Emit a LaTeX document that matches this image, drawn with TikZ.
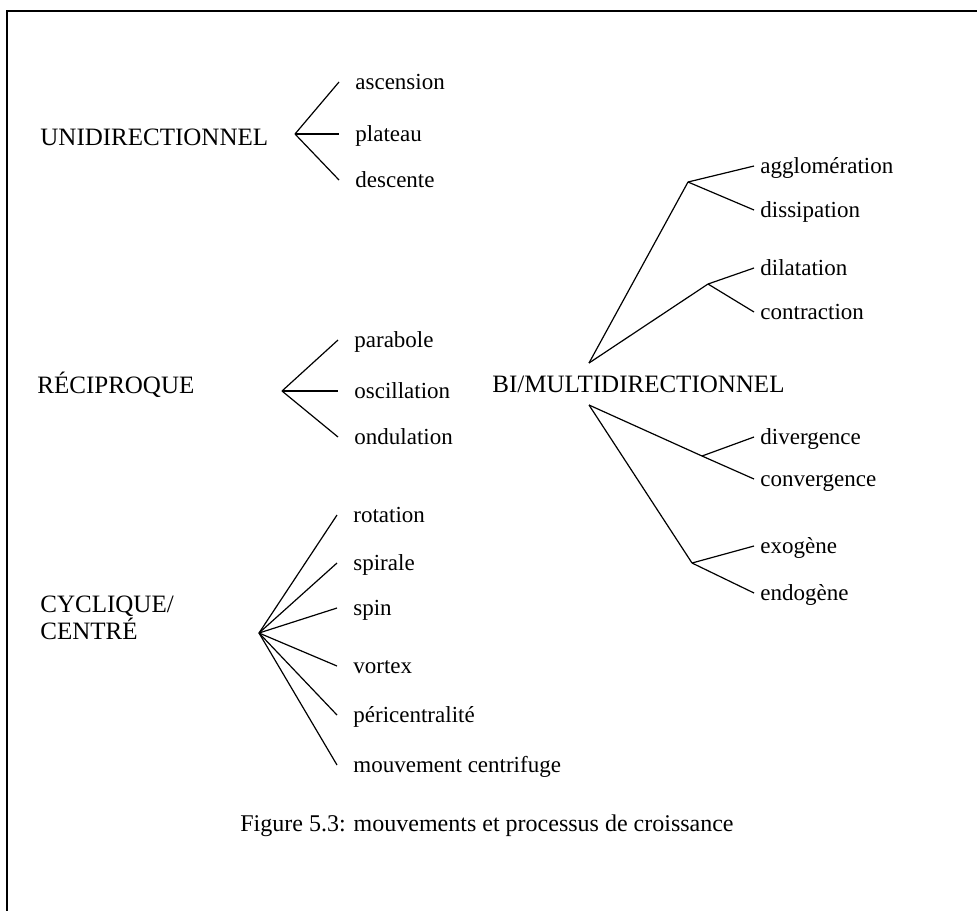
\documentclass[tikz,border=0pt]{standalone}
\usepackage{fontspec}
\setmainfont{Liberation Serif}
\usepackage{tikz}

\begin{document}
\begin{tikzpicture}[x=0.5pt, y=-0.5pt,
    group/.style={anchor=west, inner sep=0pt, align=left, font=\fontsize{12.5}{11}\selectfont},
    branch/.style={anchor=west, inner xsep=8pt, inner ysep=0pt, text height=8pt, text depth=1pt, font=\fontsize{11.5}{13}\selectfont},
    bibranch/.style={branch, inner xsep=3pt},
    link/.style={line width=0.6pt}]
    \useasboundingbox (0,0) rectangle (977,911);

    % Frame
    \draw[line width=1pt] (977,11) -- (7,11) -- (7,911);

    % Unidirectionnel
    \node[group] (uni) at (40,137) {UNIDIRECTIONNEL};
    \coordinate (unifork) at (295,134);
    \node[branch] (asc) at (339,82) {ascension};
    \node[branch] (plat) at (339,134) {plateau};
    \node[branch] (desc) at (339,180) {descente};
    \draw[link] (unifork) -- (asc.west);
    \draw[link] (unifork) -- (plat.west);
    \draw[link] (unifork) -- (desc.west);

    % Reciproque
    \node[group] (reci) at (37,385) {RÉCIPROQUE};
    \coordinate (recifork) at (282,391);
    \node[branch] (para) at (338,340) {parabole};
    \node[branch] (osc) at (338,391) {oscillation};
    \node[branch] (ond) at (338,437) {ondulation};
    \draw[link] (recifork) -- (para.west);
    \draw[link] (recifork) -- (osc.west);
    \draw[link] (recifork) -- (ond.west);

    % Cyclique / centre
    \node[group] (cycl) at (40,618) {CYCLIQUE/\\CENTRÉ};
    \coordinate (cyclfork) at (259,633);
    \node[branch] (rot) at (337,515) {rotation};
    \node[branch] (spir) at (337,563) {spirale};
    \node[branch] (spin) at (337,608) {spin};
    \node[branch] (vort) at (337,666) {vortex};
    \node[branch] (peri) at (337,715) {péricentralité};
    \node[branch] (centri) at (337,765) {mouvement centrifuge};
    \foreach \leaf in {rot, spir, spin, vort, peri, centri}
        \draw[link] (cyclfork) -- (\leaf.west);

    % Bi / multidirectionnel
    \node[group] (bi) at (492,384) {BI/MULTIDIRECTIONNEL};
    \coordinate (bitop) at (589,363);
    \coordinate (bibot) at (589,405);
    \coordinate (aggfork) at (688,182);
    \coordinate (dilfork) at (708,284);
    \coordinate (divfork) at (702,456);
    \coordinate (exofork) at (692,563);
    \node[bibranch] (aggl) at (754,166) {agglomération};
    \node[bibranch] (diss) at (754,210) {dissipation};
    \node[bibranch] (dil) at (754,268) {dilatation};
    \node[bibranch] (contr) at (754,312) {contraction};
    \node[bibranch] (div) at (754,437) {divergence};
    \node[bibranch] (conv) at (754,479) {convergence};
    \node[bibranch] (exo) at (754,546) {exogène};
    \node[bibranch] (endo) at (754,593) {endogène};
    \draw[link] (bitop) -- (aggfork);
    \draw[link] (bitop) -- (dilfork);
    \draw[link] (aggfork) -- (aggl.west);
    \draw[link] (aggfork) -- (diss.west);
    \draw[link] (dilfork) -- (dil.west);
    \draw[link] (dilfork) -- (contr.west);
    \draw[link] (bibot) -- (divfork) -- (conv.west);
    \draw[link] (divfork) -- (div.west);
    \draw[link] (bibot) -- (exofork);
    \draw[link] (exofork) -- (exo.west);
    \draw[link] (exofork) -- (endo.west);

    % Caption
    \node[font=\fontsize{12}{14}\selectfont] (caption) at (487,826) {Figure 5.3: mouvements et processus de croissance};
\end{tikzpicture}
\end{document}
